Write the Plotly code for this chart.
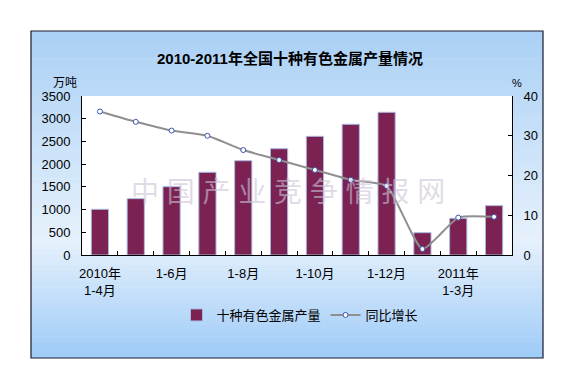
import plotly.graph_objects as go

categories = ["2010年1-4月", "2010年1-5月", "2010年1-6月", "2010年1-7月", "2010年1-8月", "2010年1-9月",
              "2010年1-10月", "2010年1-11月", "2010年1-12月", "2011年1-2月", "2011年1-3月", "2011年1-4月"]
tick_labels = ["2010年<br>1-4月", "", "1-6月", "", "1-8月", "", "1-10月", "", "1-12月", "", "2011年<br>1-3月", ""]
output_10k_t = [1006, 1240, 1504, 1820, 2076, 2340, 2612, 2877, 3141, 491, 807, 1086]
growth_pct = [36.1, 33.5, 31.3, 30.0, 26.4, 23.9, 21.4, 18.9, 17.4, 1.5, 9.4, 9.6]

# reference pixel geometry (page coordinates); the page body adds an 8px offset
OFF = 8
PAGE_W, PAGE_H = 573, 380
L, R, T, B = 82, 512, 96, 255
FONT = "Arial, Liberation Sans, Noto Sans CJK SC, sans-serif"


def px_x(x):
    return (x - L) / (R - L)


def px_y(y):
    return (B - y) / (B - T)


fig = go.Figure()
fig.add_trace(go.Bar(
    x=categories, y=output_10k_t, name="十种有色金属产量",
    marker=dict(color="#7b2252", line=dict(color="#a9b9e0", width=1)),
    yaxis="y"))
fig.add_trace(go.Scatter(
    x=categories, y=growth_pct, name="同比增长", mode="lines+markers",
    line=dict(color="#8f8f8f", width=2, shape="spline", smoothing=0.5),
    marker=dict(symbol="circle", size=5, color="white", line=dict(color="#3a55b0", width=1)),
    yaxis="y2"))

# background gradient (frame)
bx0, bx1, by0, by1 = 31, 543, 31, 358
stops = [(31, (170, 208, 245)), (240, (230, 241, 252)), (358, (158, 203, 248))]


def col(y):
    for (ya, ca), (yb, cb) in zip(stops[:-1], stops[1:]):
        if ya <= y <= yb:
            t = (y - ya) / (yb - ya)
            return "rgb(%d,%d,%d)" % tuple(round(a + (b - a) * t) for a, b in zip(ca, cb))
    return "rgb(%d,%d,%d)" % stops[-1][1]


shapes = []
n = 60
step = (by1 - by0) / n
for i in range(n):
    y0 = by0 + i * step
    y1 = y0 + step + 0.6
    shapes.append(dict(type="rect", xref="paper", yref="paper", layer="below",
                       x0=px_x(bx0), x1=px_x(bx1), y0=px_y(min(y1, by1)), y1=px_y(y0),
                       fillcolor=col(y0 + step / 2), line=dict(width=0)))
shapes.append(dict(type="rect", xref="paper", yref="paper", layer="below",
                   x0=0, x1=1, y0=0, y1=1, fillcolor="white", line=dict(width=0)))
shapes.append(dict(type="rect", xref="paper", yref="paper", layer="above",
                   x0=px_x(bx0), x1=px_x(bx1), y0=px_y(by1), y1=px_y(by0),
                   fillcolor="rgba(0,0,0,0)", line=dict(color="#1a1a2e", width=1.2)))

annotations = [
    dict(text="<b>2010-2011年全国十种有色金属产量情况</b>", xref="paper", yref="paper",
         x=px_x(290), y=px_y(48), showarrow=False, font=dict(size=15, color="black", family=FONT)),
    dict(text="万吨", xref="paper", yref="paper", x=px_x(52), y=px_y(75), showarrow=False,
         borderpad=0, font=dict(size=12, color="black", family=FONT)),
    dict(text="%", xref="paper", yref="paper", x=px_x(523), y=px_y(76), showarrow=False,
         borderpad=0, font=dict(size=11, color="black", family=FONT)),
    dict(text="中 国 产 业 竞 争 情 报 网", xref="paper", yref="paper", x=px_x(288), y=px_y(192),
         showarrow=False, font=dict(size=28, color="rgba(205,195,215,0.6)", family=FONT)),
]

fig.update_layout(
    width=PAGE_W - OFF, height=PAGE_H - OFF,
    margin=dict(l=L - OFF, r=PAGE_W - R, t=T - OFF, b=PAGE_H - B, pad=0),
    paper_bgcolor="white", plot_bgcolor="rgba(0,0,0,0)",
    font=dict(family=FONT, size=13, color="black"),
    bargap=0.52,
    showlegend=True,
    legend=dict(orientation="h", x=px_x(300), xanchor="center", y=px_y(315), yanchor="middle",
                bgcolor="rgba(0,0,0,0)", font=dict(size=13, family=FONT), itemwidth=30,
                traceorder="normal"),
    xaxis=dict(type="category", tickvals=categories, ticktext=tick_labels, tickson="boundaries",
               ticks="inside", ticklen=4, tickcolor="black", showline=True, linecolor="black",
               linewidth=1, showgrid=False, range=[-0.5, 11.5], tickfont=dict(size=13),
               tickangle=0, ticklabelstandoff=6),
    yaxis=dict(range=[0, 3500], dtick=500, ticks="inside", ticklen=4, tickcolor="black",
               showline=True, linecolor="black", linewidth=1, showgrid=False, zeroline=False,
               tickfont=dict(size=13), ticklabelstandoff=8),
    yaxis2=dict(range=[0, 40], dtick=10, overlaying="y", side="right", ticks="inside", ticklen=4,
                tickcolor="black", showline=True, linecolor="black", linewidth=1, showgrid=False,
                zeroline=False, tickfont=dict(size=13), ticklabelstandoff=8),
    shapes=shapes, annotations=annotations,
)

fig.write_html("out.html")
